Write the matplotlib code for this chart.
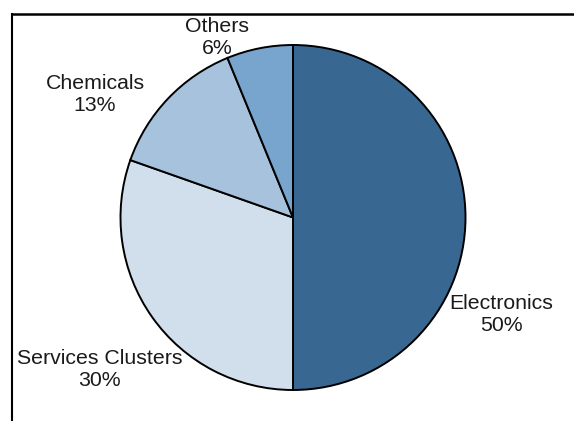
import matplotlib.pyplot as plt
from matplotlib.lines import Line2D

sectors = ['Electronics', 'Services Clusters', 'Chemicals', 'Others']
shares = [50.0, 30.4, 13.4, 6.2]
colors = ['#386791', '#d1dfec', '#a6c2dc', '#78a5cd']

# label anchor points (pixel coords, y down)
label_pos = [(501.5, 314.5), (99.5, 369.5), (95, 94.5), (217, 37.5)]

W, H = 574, 421
fig = plt.figure(figsize=(W / 100, H / 100), dpi=100)
ax = fig.add_axes([0, 0, 1, 1])

ax.pie(shares, colors=colors, startangle=90, counterclock=False,
       center=(293, H - 217.5), radius=172.5,
       wedgeprops=dict(edgecolor='black', linewidth=1.4))
ax.set_xlim(0, W)
ax.set_ylim(0, H)
ax.set_aspect('equal')
ax.axis('off')

for name, val, (x, y) in zip(sectors, shares, label_pos):
    ax.text(x, H - y, f'{name}\n{round(val)}%', ha='center', va='center',
            fontsize=15.3, family='Liberation Sans', color='#1a1a1a',
            linespacing=1.2)

# chart frame (left and top edges only visible)
fig.add_artist(Line2D([11.5 / W, 11.5 / W], [0, 1 - 14 / H],
                      color='black', lw=1.5))
fig.add_artist(Line2D([11.5 / W, 1], [1 - 14 / H, 1 - 14 / H],
                      color='black', lw=1.8))

fig.savefig('out.png', dpi=100)
